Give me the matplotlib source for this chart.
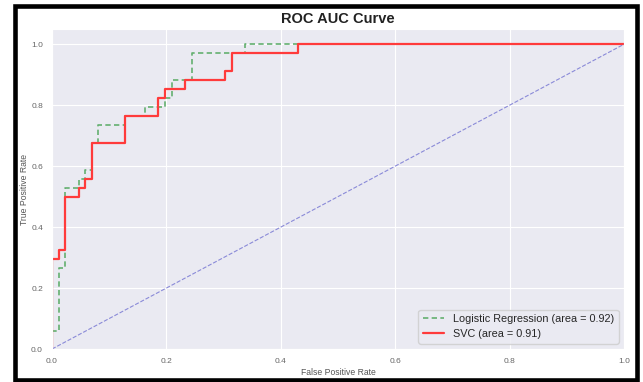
import matplotlib
matplotlib.use("Agg")
import matplotlib.pyplot as plt
import seaborn as sns
from matplotlib.patches import Rectangle

# ---- data ----
lr_fpr = [0.0, 0.0, 0.0116, 0.0116, 0.023, 0.023, 0.047, 0.047, 0.058, 0.058,
          0.070, 0.070, 0.081, 0.081, 0.128, 0.128, 0.163, 0.163, 0.198, 0.198,
          0.209, 0.209, 0.244, 0.244, 0.337, 0.337, 1.0]
lr_tpr = [0.0, 0.059, 0.059, 0.265, 0.265, 0.529, 0.529, 0.559, 0.559, 0.588,
          0.588, 0.676, 0.676, 0.735, 0.735, 0.765, 0.765, 0.794, 0.794, 0.824,
          0.824, 0.882, 0.882, 0.971, 0.971, 1.0, 1.0]

svc_fpr = [0.0, 0.0, 0.0116, 0.0116, 0.023, 0.023, 0.047, 0.047, 0.058, 0.058,
           0.070, 0.070, 0.128, 0.128, 0.186, 0.186, 0.198, 0.198, 0.233, 0.233,
           0.302, 0.302, 0.314, 0.314, 0.430, 0.430, 1.0]
svc_tpr = [0.0, 0.294, 0.294, 0.324, 0.324, 0.500, 0.500, 0.529, 0.529, 0.559,
           0.559, 0.676, 0.676, 0.765, 0.765, 0.824, 0.824, 0.853, 0.853, 0.882,
           0.882, 0.912, 0.912, 0.971, 0.971, 1.0, 1.0]

chance = [0.0, 1.0]
lr_auc = 0.92
svc_auc = 0.91
ticks = [0.0, 0.2, 0.4, 0.6, 0.8, 1.0]

sns.set_style("darkgrid")
plt.rcParams['font.family'] = ['Liberation Sans', 'DejaVu Sans']

fig = plt.figure(figsize=(6.43, 3.82), dpi=100)
ax = fig.add_axes([52/643, (382-349)/382, 572/643, 320/382])

ax.plot(lr_fpr, lr_tpr, color='#64b070', linestyle='--', lw=1.2,
        dashes=(3.2, 2.0), label='Logistic Regression (area = %0.2f)' % lr_auc)
ax.plot(svc_fpr, svc_tpr, color='#ff3b3b', lw=1.6,
        label='SVC (area = %0.2f)' % svc_auc)
ax.plot(chance, chance, color='#8a8ad8', linestyle='--', lw=0.8)

ax.set_xlim(0.0, 1.0)
ax.set_ylim(0.0, 1.05)
ax.set_xticks(ticks)
ax.set_yticks(ticks)
ax.tick_params(labelsize=6, labelcolor='#666666', pad=3)
ax.set_xlabel('False Positive Rate', fontsize=6.2, color='#555555', labelpad=2)
ax.set_ylabel('True Positive Rate', fontsize=6.2, color='#555555', labelpad=1.5)
ax.set_title('ROC AUC Curve', fontsize=10.5, fontweight='bold', color='#222222', pad=4)
leg = ax.legend(loc='lower right', fontsize=7.8, frameon=True)

fig.patches.append(Rectangle((14.5/643, 2/382), (637-14.5)/643, (380-6.3)/382,
                             transform=fig.transFigure, fill=False,
                             edgecolor='black', lw=3.3))

fig.savefig('out.png', dpi=100)
